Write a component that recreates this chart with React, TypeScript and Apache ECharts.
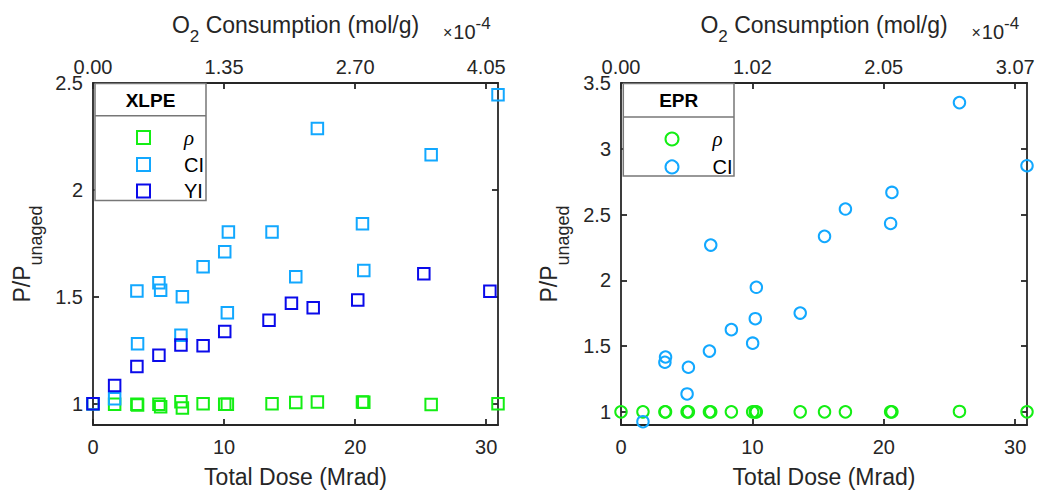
import React, { useEffect, useRef } from "react";
import * as echarts from "echarts";

// ---------- data (Total Dose in Mrad, P/P_unaged) ----------
const xlpeRho: [number, number][] = [
  [0, 1.0], [1.65, 0.997], [3.35, 0.997], [3.4, 0.993], [5.03, 0.997], [5.16, 0.985],
  [6.71, 1.009], [6.82, 0.98], [8.4, 1.0], [10.05, 0.997], [10.25, 0.997], [13.66, 1.0],
  [15.47, 1.005], [17.12, 1.008], [20.56, 1.008], [20.66, 1.006], [25.8, 0.996], [30.9, 1.0],
];
const xlpeCI: [number, number][] = [
  [0, 1.0], [1.65, 1.023], [3.35, 1.527], [3.4, 1.28], [5.03, 1.566], [5.16, 1.53],
  [6.71, 1.32], [6.82, 1.5], [8.4, 1.64], [10.05, 1.711], [10.25, 1.425], [10.33, 1.803],
  [13.66, 1.803], [15.47, 1.594], [17.12, 2.287], [20.56, 1.841], [20.66, 1.623],
  [25.8, 2.164], [30.9, 2.445],
];
const xlpeYI: [number, number][] = [
  [0, 1.0], [1.65, 1.085], [3.35, 1.174], [5.03, 1.226], [6.71, 1.274], [8.4, 1.271],
  [10.05, 1.338], [13.43, 1.39], [15.14, 1.47], [16.8, 1.448], [20.2, 1.485],
  [25.24, 1.608], [30.28, 1.526],
];
const eprRho: [number, number][] = [
  [0, 1.0], [1.67, 1.0], [3.34, 1.0], [3.39, 1.0], [5.03, 1.0], [5.13, 1.0], [6.73, 1.0],
  [6.83, 1.0], [8.4, 1.0], [10.02, 1.0], [10.22, 1.0], [10.3, 1.0], [13.64, 1.0],
  [15.49, 1.0], [17.08, 1.0], [20.52, 1.0], [20.62, 1.0], [25.76, 1.003], [30.9, 1.0],
];
const eprCI: [number, number][] = [
  [1.67, 0.925], [3.34, 1.377], [3.39, 1.417], [5.03, 1.136], [5.13, 1.339], [6.73, 1.462],
  [6.83, 2.268], [8.4, 1.625], [10.02, 1.522], [10.22, 1.708], [10.3, 1.947], [13.64, 1.751],
  [15.49, 2.334], [17.08, 2.542], [20.52, 2.432], [20.62, 2.668], [25.76, 3.351], [30.9, 2.871],
];

const doseTicks = [0, 10, 20, 30];
const xlpeYTicks = [1, 1.5, 2, 2.5];
const eprYTicks = [1, 1.5, 2, 2.5, 3, 3.5];
// O2 consumption (x1e-4 mol/g) per Mrad
const xlpeO2PerMrad = 0.135;
const eprO2PerMrad = 3.07 / 30;

const GREEN = "#14EE14";
const LBLUE = "#12A8FF";
const DBLUE = "#0A0AEA";
const AXIS = "#262626";
const FONT = "'Liberation Sans', Arial, Helvetica, sans-serif";

export default function App() {
  const ref = useRef<HTMLDivElement>(null);
  useEffect(() => {
    if (!ref.current) return;
    const chart = echarts.init(ref.current, null, { renderer: "svg" });

    const grids = [
      { left: 93, right: 542, top: 83, bottom: 65 },
      { left: 621, right: 13, top: 83, bottom: 65 },
    ];

    const lineStyle = { color: AXIS, width: 1.8 };
    const labelStyle = { fontSize: 20, color: AXIS, fontFamily: FONT };

    const bottomX = (gi: number) => ({
      type: "value",
      gridIndex: gi,
      position: "bottom",
      min: 0,
      max: 30.9,
      axisLine: { show: true, onZero: false, lineStyle },
      axisTick: { show: true, inside: true, length: 6, lineStyle, customValues: doseTicks },
      axisLabel: { ...labelStyle, margin: 12, customValues: doseTicks },
      splitLine: { show: false },
      name: "Total Dose (Mrad)",
      nameLocation: "middle",
      nameGap: 40,
      nameTextStyle: { fontSize: 23, color: AXIS, fontFamily: FONT },
    });
    const topX = (gi: number, factor: number) => ({
      type: "value",
      gridIndex: gi,
      position: "top",
      min: 0,
      max: 30.9,
      axisLine: { show: true, onZero: false, lineStyle },
      axisTick: { show: true, inside: true, length: 6, lineStyle, customValues: doseTicks },
      axisLabel: {
        ...labelStyle,
        margin: 6,
        customValues: doseTicks,
        formatter: (v: number) => (v * factor).toFixed(2),
      },
      splitLine: { show: false },
      name: "{a|O}{s|2}{a| Consumption (mol/g)}",
      nameLocation: "middle",
      nameGap: 38,
      nameTextStyle: {
        color: AXIS,
        fontFamily: FONT,
        rich: {
          a: { fontSize: 23, color: AXIS, fontFamily: FONT, lineHeight: 23, verticalAlign: "top" },
          s: { fontSize: 17, color: AXIS, fontFamily: FONT, padding: [15, 0, 0, 0], verticalAlign: "top" },
        },
      },
    });
    const leftY = (gi: number, max: number, ticks: number[], gap: number) => ({
      type: "value",
      gridIndex: gi,
      position: "left",
      min: 0.9,
      max,
      axisLine: { show: true, onZero: false, lineStyle },
      axisTick: { show: true, inside: true, length: 6, lineStyle, customValues: ticks },
      axisLabel: { ...labelStyle, margin: 10, customValues: ticks },
      splitLine: { show: false },
      name: "{a|P/P}{s|unaged}",
      nameLocation: "middle",
      nameGap: gap,
      nameTextStyle: {
        color: AXIS,
        fontFamily: FONT,
        rich: {
          a: { fontSize: 23, color: AXIS, fontFamily: FONT, lineHeight: 24, verticalAlign: "top" },
          s: { fontSize: 18, color: AXIS, fontFamily: FONT, padding: [17, 0, 0, 0], verticalAlign: "top" },
        },
      },
    });
    const rightY = (gi: number, max: number, ticks: number[]) => ({
      type: "value",
      gridIndex: gi,
      position: "right",
      min: 0.9,
      max,
      axisLine: { show: true, onZero: false, lineStyle },
      axisTick: { show: true, inside: true, length: 6, lineStyle, customValues: ticks },
      axisLabel: { show: false },
      splitLine: { show: false },
    });

    const scatter = (
      name: string,
      data: [number, number][],
      color: string,
      symbol: string,
      xi: number,
      yi: number
    ) => ({
      type: "scatter",
      name,
      data,
      xAxisIndex: xi,
      yAxisIndex: yi,
      symbol,
      symbolSize: 11.5,
      clip: false,
      itemStyle: { color: "rgba(0,0,0,0)", borderColor: color, borderWidth: 2, opacity: 1 },
      emphasis: { disabled: true },
    });

    const legendCommon = {
      orient: "vertical",
      itemWidth: 13,
      itemHeight: 13,
      selectedMode: false,
      itemStyle: { borderWidth: 2 },
      formatter: (name: string) => {
        const lab = name.split(" ")[1];
        return lab === "ρ" ? "{r|ρ}" : lab;
      },
      textStyle: {
        fontSize: 20,
        color: "#000",
        fontFamily: FONT,
        padding: [0, 0, 0, 29],
        rich: {
          r: { fontSize: 21, fontStyle: "italic", fontFamily: "'Liberation Serif', 'DejaVu Serif', serif", color: "#000" },
        },
      },
    };

    const option: any = {
      animation: false,
      backgroundColor: "#fff",
      grid: grids,
      xAxis: [bottomX(0), topX(0, xlpeO2PerMrad), bottomX(1), topX(1, eprO2PerMrad)],
      yAxis: [
        leftY(0, 2.5, xlpeYTicks, 48),
        rightY(0, 2.5, xlpeYTicks),
        leftY(1, 3.5, eprYTicks, 49),
        rightY(1, 3.5, eprYTicks),
      ],
      legend: [
        { ...legendCommon, left: 131, top: 122, itemGap: 6.5, data: ["XLPE ρ", "XLPE CI", "XLPE YI"] },
        { ...legendCommon, left: 659.5, top: 123.5, itemGap: 7.4, data: ["EPR ρ", "EPR CI"] },
      ],
      series: [
        scatter("XLPE ρ", xlpeRho, GREEN, "rect", 0, 0),
        scatter("XLPE CI", xlpeCI, LBLUE, "rect", 0, 0),
        scatter("XLPE YI", xlpeYI, DBLUE, "rect", 0, 0),
        scatter("EPR ρ", eprRho, GREEN, "circle", 2, 2),
        scatter("EPR CI", eprCI, LBLUE, "circle", 2, 2),
      ],
      graphic: [
        // legend frames
        { type: "rect", z: 3, shape: { x: 95, y: 83.5, width: 111, height: 117 }, style: { fill: "#fff", stroke: "#777", lineWidth: 1.5 } },
        { type: "line", z: 3, shape: { x1: 95, y1: 115.7, x2: 206, y2: 115.7 }, style: { stroke: "#777", lineWidth: 1.5 } },
        { type: "text", z: 5, style: { text: "XLPE", x: 150.5, y: 100, align: "center", verticalAlign: "middle", fontSize: 19, fontWeight: "bold", fontFamily: FONT, fill: "#000" } },
        { type: "rect", z: 3, shape: { x: 623.3, y: 83.5, width: 110.7, height: 92.5 }, style: { fill: "#fff", stroke: "#777", lineWidth: 1.5 } },
        { type: "line", z: 3, shape: { x1: 623.3, y1: 117, x2: 734, y2: 117 }, style: { stroke: "#777", lineWidth: 1.5 } },
        { type: "text", z: 5, style: { text: "EPR", x: 678.7, y: 100.5, align: "center", verticalAlign: "middle", fontSize: 19, fontWeight: "bold", fontFamily: FONT, fill: "#000" } },
        // exponent labels
        ...[443, 971.5].map((x) => ({
          type: "text",
          z: 5,
          style: {
            text: "{x|×}{a|10}{s|-4}",
            x,
            y: 15,
            verticalAlign: "top",
            rich: {
              x: { fontSize: 16, fontFamily: FONT, fill: AXIS, padding: [9, 1, 0, 0], verticalAlign: "top" },
              a: { fontSize: 20, fontFamily: FONT, fill: AXIS, padding: [7, 0, 0, 0], verticalAlign: "top" },
              s: { fontSize: 17, fontFamily: FONT, fill: AXIS, verticalAlign: "top" },
            },
          },
        })),
      ],
    };

    chart.setOption(option);
    return () => chart.dispose();
  }, []);

  return (
    <div
      ref={ref}
      style={{ position: "fixed", left: 0, top: 0, width: 1040, height: 493, background: "#fff" }}
    />
  );
}
